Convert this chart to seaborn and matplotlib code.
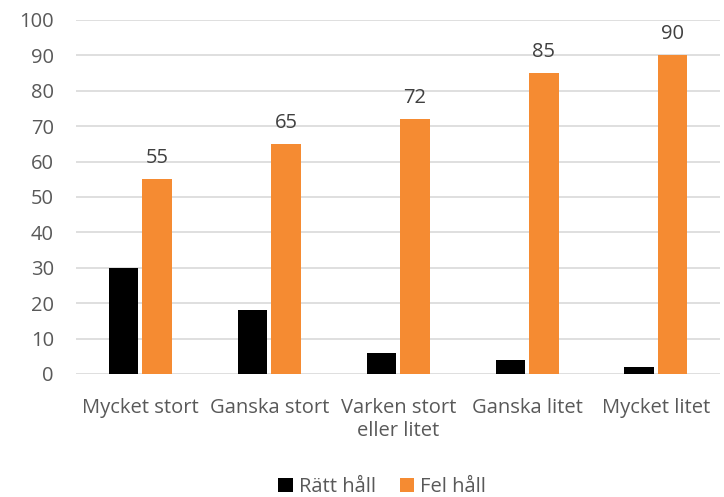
import pandas as pd
import seaborn as sns
import matplotlib.pyplot as plt

categories = ['Mycket stort', 'Ganska stort', 'Varken stort\neller litet', 'Ganska litet', 'Mycket litet']
ratt_hall = [30, 18, 6, 4, 2]
fel_hall = [55, 65, 72, 85, 90]
series = ['Rätt håll', 'Fel håll']
colors = ['#000000', '#F58B32']

df = pd.DataFrame({
    'kategori': categories * 2,
    'serie': [series[0]] * len(categories) + [series[1]] * len(categories),
    'varde': ratt_hall + fel_hall,
})

sns.set_style('white')
plt.rcParams['font.family'] = ['Open Sans', 'DejaVu Sans']
textcol = '#595959'
fs = 14.5

fig = plt.figure(figsize=(7.24, 4.97), dpi=100)
ax = fig.add_axes([0.105, 0.2475, 0.89, 0.7125])

sns.barplot(data=df, x='kategori', y='varde', hue='serie', palette=colors,
            saturation=1, width=0.52, gap=0.12, linewidth=0, ax=ax, legend=True)

# etiketter bara på orange staplar
ax.bar_label(ax.containers[1], padding=8, fontsize=fs, color='#404040')

ax.set_ylim(0, 100)
ax.set_yticks(range(0, 101, 10))
ax.set_xlim(-0.5, 4.5)
ax.yaxis.grid(True, color='#D9D9D9', linewidth=1.2)
ax.set_axisbelow(True)
for s in ax.spines.values():
    s.set_visible(False)
ax.tick_params(axis='both', length=0, labelsize=fs, labelcolor=textcol)
ax.tick_params(axis='y', pad=16)
ax.tick_params(axis='x', pad=17)
ax.set_xlabel('')
ax.set_ylabel('')

ax.legend(loc='center', bbox_to_anchor=(0.475, -0.318), ncol=2, frameon=False,
          fontsize=fs, labelcolor=textcol, handlelength=0.7, handleheight=0.7,
          handletextpad=0.3, columnspacing=1.2)

fig.savefig('out.png', dpi=100)
